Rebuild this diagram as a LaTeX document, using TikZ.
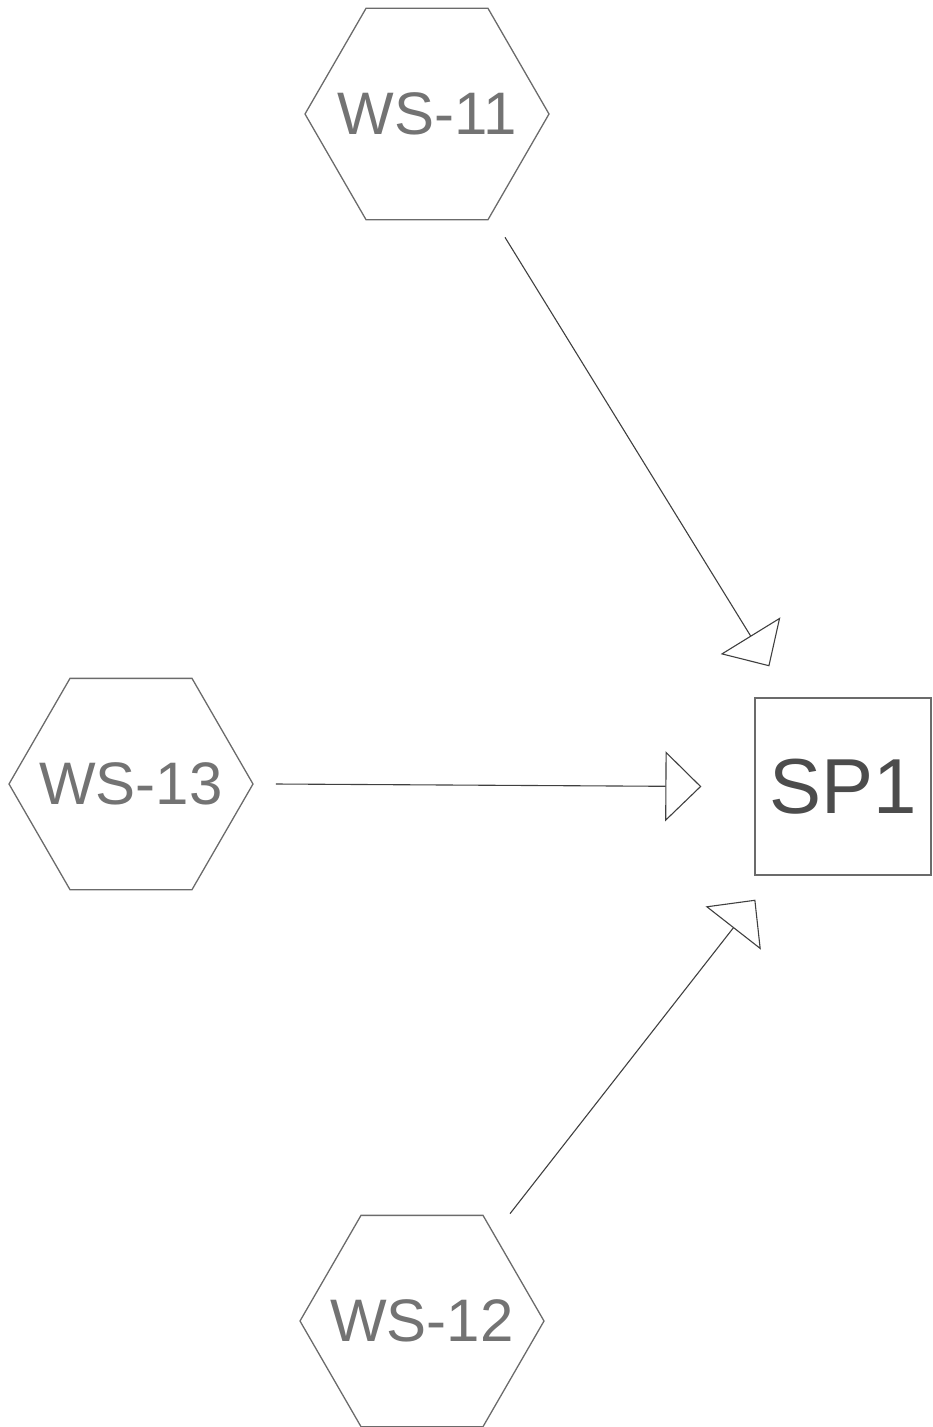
\documentclass[tikz,border=0pt]{standalone}
\usepackage{fontspec}
\setmainfont{Liberation Sans}
\usetikzlibrary{shapes.geometric,arrows.meta,calc}
\definecolor{ink}{gray}{0.42}
\definecolor{txt}{gray}{0.45}
\tikzset{
  hexnode/.style={draw=ink, line width=1.3pt, regular polygon, regular polygon sides=6,
    minimum size=244pt, inner sep=0pt, text=txt, font=\fontsize{60}{60}\selectfont},
  spbox/.style={draw=ink, line width=1.3pt, minimum width=176pt, minimum height=177pt,
    inner sep=0pt, text=black!70, font=\fontsize{78}{78}\selectfont},
  conn/.style={draw=black!75, line width=1.1pt,
    -{Triangle[open, length=36pt, width=70pt, line width=1.1pt]}}
}
\begin{document}
\begin{tikzpicture}[x=1pt,y=-1pt]
\useasboundingbox (0,0) rectangle (932,1427);
\node[hexnode] (ws11) at (427,114) {\makebox[0pt]{WS-11}};
\node[hexnode] (ws13) at (131,784) {\makebox[0pt]{WS-13}};
\node[hexnode] (ws12) at (422,1321) {\makebox[0pt]{WS-12}};
\node[spbox] (sp1) at (843,786.5) {SP1};
\draw[conn] ($(ws11.south)+(78,17)$) -- ($(sp1.north west)+(15,-31)$);
\draw[conn] ($(ws13.east)+(22,0)$) -- ($(sp1.west)+(-53,0)$);
\draw[conn] ($(ws12.north)+(88,-1)$) -- ($(sp1.south west)+(1,24)$);
\end{tikzpicture}
\end{document}
